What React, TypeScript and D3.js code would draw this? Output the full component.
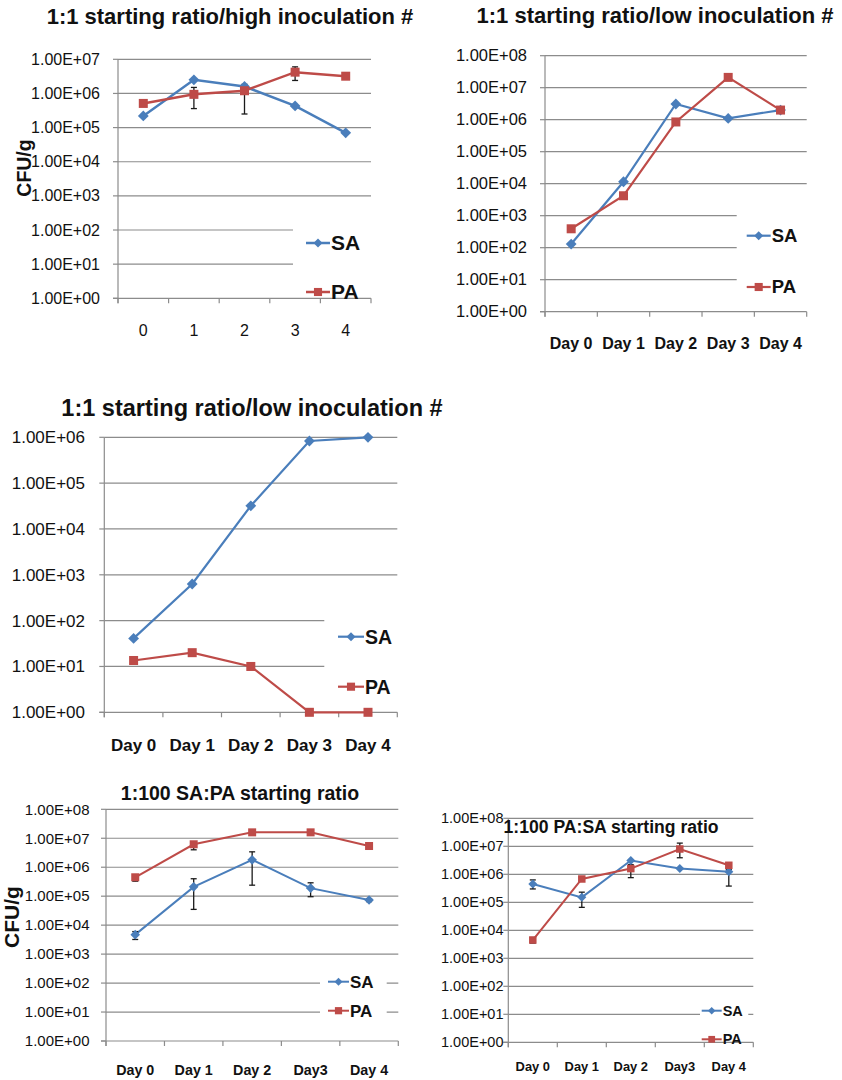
import React from "react";
import * as d3 from "d3";

// ---------- data ----------
const numLabels = ["0", "1", "2", "3", "4"];
const dayLabels = ["Day 0", "Day 1", "Day 2", "Day 3", "Day 4"];
const dayLabelsB = ["Day 0", "Day 1", "Day 2", "Day3", "Day 4"];

// Panel 1: 1:1 starting ratio / high inoculation
const p1SA = [2.2e5, 2.5e6, 1.6e6, 4.3e5, 7e4];
const p1PA = [5.1e5, 9.4e5, 1.2e6, 4.2e6, 3.2e6];
const p1PALow = [null, 3.6e5, 2.5e5, 2.4e6, null];
const p1PAHigh = [null, 1.5e6, 1.85e6, 6e6, null];

// Panel 2: 1:1 starting ratio / low inoculation
const p2SA = [1.3e2, 1.15e4, 3.1e6, 1.1e6, 2e6];
const p2PA = [3.9e2, 4.2e3, 8.5e5, 2.1e7, 2e6];

// Panel 3: 1:1 starting ratio / low inoculation
const p3SA = [41, 630, 3.2e4, 8.3e5, 1e6];
const p3PA = [13.5, 20, 10, 1, 1];

// Panel 4: 1:100 SA:PA starting ratio
const p4SA = [4.7e3, 2.1e5, 1.8e6, 1.9e5, 7.4e4];
const p4SALow = [3.2e3, 3.5e4, 2.4e5, 9.6e4, 6.5e4];
const p4SAHigh = [6e3, 4e5, 3.4e6, 2.9e5, 8.2e4];
const p4PA = [4.5e5, 6.2e6, 1.6e7, 1.6e7, 5.4e6];
const p4PALow = [3.3e5, 4e6, 1.5e7, 1.5e7, 4.2e6];
const p4PAHigh = [5.2e5, 7e6, 1.7e7, 1.7e7, 6e6];

// Panel 5: 1:100 PA:SA starting ratio
const p5SA = [4.5e5, 1.5e5, 3.1e6, 1.6e6, 1.23e6];
const p5SALow = [3e5, 6.6e4, null, null, 3.8e5];
const p5SAHigh = [6.3e5, 2.3e5, null, null, 1.5e6];
const p5PA = [4.5e3, 6.8e5, 1.6e6, 8e6, 2.1e6];
const p5PALow = [3.5e3, 6e5, 7.6e5, 3.9e6, 1.6e6];
const p5PAHigh = [5.5e3, 7.5e5, 2.2e6, 1.3e7, 2.6e6];

const BLUE = "#4A7EBB";
const RED = "#BE4B48";
const GRID = "#8c8c8c";
const FONT = "'Liberation Sans', Arial, Helvetica, sans-serif";

type Cfg = {
  title: string; titleX: number; titleY: number; titleSize: number; titleAnchor?: string;
  left: number; right: number; top: number; bottom: number; maxExp: number;
  tickLabelX: number; tickSize: number;
  xLabels: string[]; xLabelY: number; xLabelSize: number; xLabelBold: boolean;
  yLabel?: { x: number; y: number; size: number };
  legend: { x: number; saY: number; paY: number; size: number; lineLen: number; rect: number[] };
  sa: number[]; pa: number[];
  saLow?: (number | null)[]; saHigh?: (number | null)[];
  paLow?: (number | null)[]; paHigh?: (number | null)[];
  mSize: number; lw: number;
};

const diamond = (cx: number, cy: number, s: number) =>
  `M${cx},${cy - s}L${cx + s},${cy}L${cx},${cy + s}L${cx - s},${cy}Z`;

function Panel({ c }: { c: Cfg }) {
  const y = d3.scaleLog().domain([1, Math.pow(10, c.maxExp)]).range([c.bottom, c.top]);
  const x = d3.scaleBand<string>().domain(c.xLabels).range([c.left, c.right]).padding(0);
  const cx = (i: number) => (x(c.xLabels[i]) as number) + x.bandwidth() / 2;
  const ticks = d3.range(0, c.maxExp + 1).map((e) => Math.pow(10, e));
  const line = d3.line<number>().x((_, i) => cx(i)).y((v) => y(v));
  const [rx0, ry0, rx1, ry1] = c.legend.rect;
  const ms = c.mSize;
  const errs = (low?: (number | null)[], high?: (number | null)[]) =>
    low && high
      ? low.map((lo, i) => {
          const hi = high[i];
          if (lo == null || hi == null) return null;
          const xx = cx(i);
          return (
            <g key={i} stroke="#1a1a1a" strokeWidth={1.3}>
              <line x1={xx} x2={xx} y1={y(hi)} y2={y(lo)} />
              <line x1={xx - 3} x2={xx + 3} y1={y(hi)} y2={y(hi)} />
              <line x1={xx - 3} x2={xx + 3} y1={y(lo)} y2={y(lo)} />
            </g>
          );
        })
      : null;
  const lx = c.legend.x;
  const ll = c.legend.lineLen;
  return (
    <g fontFamily={FONT}>
      {/* gridlines */}
      {ticks.slice(1).map((t) => (
        <line key={t} x1={c.left} x2={c.right} y1={y(t)} y2={y(t)} stroke={GRID} strokeWidth={1.2} />
      ))}
      {/* legend backdrop */}
      <rect x={rx0} y={ry0} width={rx1 - rx0} height={ry1 - ry0} fill="#fff" />
      {/* axes */}
      <line x1={c.left} x2={c.left} y1={c.top} y2={c.bottom + 5} stroke={GRID} strokeWidth={1.2} />
      <line x1={c.left - 5} x2={c.right} y1={c.bottom} y2={c.bottom} stroke={GRID} strokeWidth={1.2} />
      {ticks.map((t) => (
        <g key={"t" + t}>
          <line x1={c.left - 5} x2={c.left} y1={y(t)} y2={y(t)} stroke={GRID} strokeWidth={1.2} />
          <text x={c.tickLabelX} y={y(t)} dy="0.35em" textAnchor="end" fontSize={c.tickSize} fill="#111">
            {t.toExponential(2).toUpperCase().replace(/E\+(\d)$/, "E+0$1")}
          </text>
        </g>
      ))}
      {c.xLabels.map((l, i) => (
        <g key={"x" + i}>
          <line x1={x(l)} x2={x(l)} y1={c.bottom} y2={c.bottom + 5} stroke={GRID} strokeWidth={1.2} />
          <text x={cx(i)} y={c.xLabelY} dy="0.35em" textAnchor="middle" fontSize={c.xLabelSize}
            fontWeight={c.xLabelBold ? "bold" : "normal"} fill="#111">{l}</text>
        </g>
      ))}
      <line x1={c.right} x2={c.right} y1={c.bottom} y2={c.bottom + 5} stroke={GRID} strokeWidth={1.2} />
      {/* series lines */}
      <path d={line(c.sa) || ""} fill="none" stroke={BLUE} strokeWidth={c.lw} />
      <path d={line(c.pa) || ""} fill="none" stroke={RED} strokeWidth={c.lw} />
      {errs(c.saLow, c.saHigh)}
      {errs(c.paLow, c.paHigh)}
      {c.sa.map((v, i) => (
        <path key={"s" + i} d={diamond(cx(i), y(v), ms * 0.6)} fill={BLUE} />
      ))}
      {c.pa.map((v, i) => (
        <rect key={"p" + i} x={cx(i) - ms / 2} y={y(v) - ms / 2} width={ms} height={ms} fill={RED} />
      ))}
      {/* legend */}
      <line x1={lx} x2={lx + ll} y1={c.legend.saY} y2={c.legend.saY} stroke={BLUE} strokeWidth={c.lw} />
      <path d={diamond(lx + ll / 2, c.legend.saY, ms * 0.5)} fill={BLUE} />
      <text x={lx + ll + 1} y={c.legend.saY} dy="0.35em" fontSize={c.legend.size} fontWeight="bold" fill="#111">SA</text>
      <line x1={lx} x2={lx + ll} y1={c.legend.paY} y2={c.legend.paY} stroke={RED} strokeWidth={c.lw} />
      <rect x={lx + ll / 2 - ms * 0.45} y={c.legend.paY - ms * 0.45} width={ms * 0.9} height={ms * 0.9} fill={RED} />
      <text x={lx + ll + 1} y={c.legend.paY} dy="0.35em" fontSize={c.legend.size} fontWeight="bold" fill="#111">PA</text>
      {/* title */}
      <text x={c.titleX} y={c.titleY} dy="0.35em" textAnchor={c.titleAnchor || "middle"} fontSize={c.titleSize}
        fontWeight="bold" fill="#111">{c.title}</text>
      {c.yLabel && (
        <text transform={`translate(${c.yLabel.x},${c.yLabel.y}) rotate(-90)`} dy="0.35em" textAnchor="middle"
          fontSize={c.yLabel.size} fontWeight="bold" fill="#111">CFU/g</text>
      )}
    </g>
  );
}

const panels: Cfg[] = [
  {
    title: "1:1 starting ratio/high inoculation #", titleX: 230, titleY: 16, titleSize: 22,
    left: 118, right: 371, top: 59.3, bottom: 298.3, maxExp: 7,
    tickLabelX: 100, tickSize: 16,
    xLabels: numLabels, xLabelY: 330, xLabelSize: 16, xLabelBold: false,
    yLabel: { x: 24, y: 168, size: 19.5 },
    legend: { x: 306, saY: 243, paY: 292, size: 21, lineLen: 24, rect: [293, 205, 380, 296] },
    sa: p1SA, pa: p1PA, paLow: p1PALow, paHigh: p1PAHigh, mSize: 9, lw: 2.5,
  },
  {
    title: "1:1 starting ratio/low inoculation #", titleX: 655, titleY: 15, titleSize: 22,
    left: 545, right: 806.7, top: 55.7, bottom: 311.7, maxExp: 8,
    tickLabelX: 527, tickSize: 16.5,
    xLabels: dayLabels, xLabelY: 343, xLabelSize: 16, xLabelBold: true,
    legend: { x: 746.7, saY: 235.7, paY: 287, size: 18.5, lineLen: 24, rect: [736.7, 197, 815, 300] },
    sa: p2SA, pa: p2PA, mSize: 9, lw: 2.2,
  },
  {
    title: "1:1 starting ratio/low inoculation #", titleX: 252, titleY: 408, titleSize: 23.5,
    left: 104.3, right: 397.3, top: 437.3, bottom: 712.3, maxExp: 6,
    tickLabelX: 85, tickSize: 17,
    xLabels: dayLabels, xLabelY: 745, xLabelSize: 17, xLabelBold: true,
    legend: { x: 338, saY: 636.7, paY: 686.7, size: 19.5, lineLen: 26, rect: [324.3, 590, 405, 702] },
    sa: p3SA, pa: p3PA, mSize: 9, lw: 2.2,
  },
  {
    title: "1:100 SA:PA starting ratio", titleX: 240, titleY: 793.5, titleSize: 19.5,
    left: 106, right: 398.3, top: 809.3, bottom: 1041, maxExp: 8,
    tickLabelX: 89.5, tickSize: 15,
    xLabels: dayLabelsB, xLabelY: 1070, xLabelSize: 14.3, xLabelBold: true,
    yLabel: { x: 12, y: 917, size: 21 },
    legend: { x: 328, saY: 981.7, paY: 1010.7, size: 17, lineLen: 21, rect: [320, 966, 386.7, 1025] },
    sa: p4SA, pa: p4PA, saLow: p4SALow, saHigh: p4SAHigh, paLow: p4PALow, paHigh: p4PAHigh, mSize: 8, lw: 2,
  },
  {
    title: "1:100 PA:SA starting ratio", titleX: 503.5, titleY: 827, titleSize: 17.6, titleAnchor: "start",
    left: 508.3, right: 753.3, top: 818.3, bottom: 1042.3, maxExp: 8,
    tickLabelX: 503.5, tickSize: 14.5,
    xLabels: dayLabelsB, xLabelY: 1066.7, xLabelSize: 12.9, xLabelBold: true,
    legend: { x: 701.7, saY: 1010.7, paY: 1039.3, size: 14.5, lineLen: 20, rect: [700, 998, 748.3, 1038] },
    sa: p5SA, pa: p5PA, saLow: p5SALow, saHigh: p5SAHigh, paLow: p5PALow, paHigh: p5PAHigh, mSize: 7.5, lw: 2,
  },
];

export default function App() {
  return (
    <svg width={842} height={1080} style={{ position: "absolute", left: 0, top: 0, background: "#fff" }}>
      <rect width={842} height={1080} fill="#fff" />
      {panels.map((p, i) => (
        <Panel key={i} c={p} />
      ))}
    </svg>
  );
}
